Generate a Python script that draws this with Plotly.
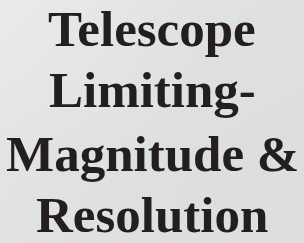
import plotly.graph_objects as go

title_lines = ["Telescope", "Limiting-", "Magnitude &", "Resolution"]
line_y = [0.882, 0.629, 0.366, 0.117]  # vertical centres (paper fraction)

W, H = 304, 243

# soft background gradient (lighter at upper-left)
bg_z = [[0.0, 0.3, 0.55, 0.7],
        [0.25, 0.5, 0.7, 0.75],
        [0.45, 0.65, 0.75, 0.8],
        [0.55, 0.7, 0.8, 0.8]]

fig = go.Figure()
fig.add_trace(go.Heatmap(
    z=bg_z, x=[-0.5, 1, 2, 3.5], y=[3.5, 2, 1, -0.5], zsmooth="best",
    colorscale=[[0, "#eeeeee"], [1, "#d8d9db"]], zmin=0, zmax=1,
    showscale=False, hoverinfo="skip"))

for txt, yy in zip(title_lines, line_y):
    fig.add_annotation(
        text=txt, x=0.5, y=yy, xref="paper", yref="paper",
        xanchor="center", yanchor="middle", showarrow=False,
        font=dict(family="Liberation Serif", size=51, color="#231f20"))

fig.update_layout(
    width=W, height=H, margin=dict(l=0, r=0, t=0, b=0, pad=0),
    paper_bgcolor="#dcdddf", plot_bgcolor="#dcdddf",
    xaxis=dict(visible=False, range=[0, 3], fixedrange=True),
    yaxis=dict(visible=False, range=[0, 3], fixedrange=True),
    showlegend=False)
fig.update_annotations(font_weight="bold")

fig.write_html("out.html", config={"displayModeBar": False},
               post_script="document.body.style.margin='0';")
